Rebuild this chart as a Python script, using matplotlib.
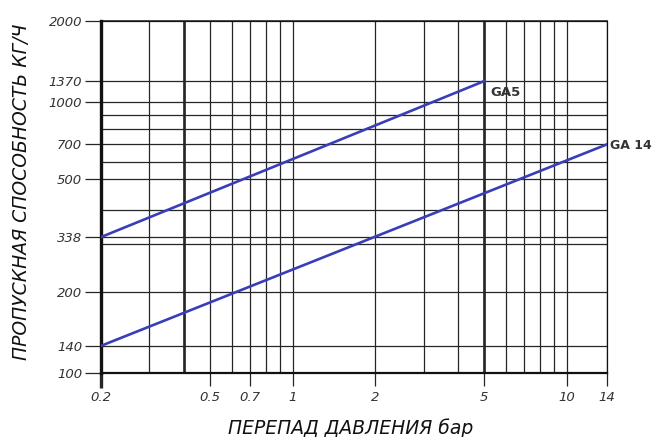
import numpy as np
import matplotlib
matplotlib.use('Agg')
import matplotlib.pyplot as plt
from matplotlib.ticker import FixedLocator, NullFormatter

plt.rcParams['font.family'] = ['DejaVu Sans']

# перепад давления, бар
ga5_dp = [0.2, 5]
ga5_flow = [338, 1370]
ga14_dp = [0.2, 14]
ga14_flow = [140, 700]

x_major = [0.2, 0.5, 0.7, 1, 2, 5, 10, 14]
x_labels = ['0.2', '0.5', '0.7', '1', '2', '5', '10', '14']
x_minor = [0.3, 0.4, 0.6, 0.8, 0.9, 3, 4, 6, 7, 8, 9]

y_major = [100, 140, 200, 338, 500, 700, 1000, 1370, 2000]
y_minor = [300, 400, 600, 800, 900]

# шкала расхода на бланке: где стоит каждая линия сетки по обычной логарифмической шкале
y_nodes = np.log10([100, 140, 200, 300, 338, 400, 500, 600, 700, 800, 900, 1000, 1370, 2000])
y_place = np.log10([100, 126, 200, 300, 318, 400, 520, 600, 700, 800, 900, 1000, 1200, 2000])


def fwd(v):
    v = np.clip(np.asarray(v, dtype=float), 1e-9, None)
    return np.interp(np.log10(v), y_nodes, y_place)


def inv(t):
    t = np.asarray(t, dtype=float)
    return 10 ** np.interp(t, y_place, y_nodes)


fig = plt.figure(figsize=(6.58, 4.37), dpi=100)
ax = fig.add_axes([101 / 658, 1 - 373 / 437, 506 / 658, 352 / 437])

ax.set_xscale('log')
ax.set_yscale('function', functions=(fwd, inv))
ax.set_xlim(0.2, 14)
ax.set_ylim(100, 2000)

grid_col = '#262626'
ax.xaxis.set_major_locator(FixedLocator(x_major))
ax.xaxis.set_minor_locator(FixedLocator(x_minor))
ax.set_xticklabels(x_labels)
ax.xaxis.set_minor_formatter(NullFormatter())
ax.yaxis.set_major_locator(FixedLocator(y_major))
ax.yaxis.set_minor_locator(FixedLocator(y_minor))
ax.set_yticklabels([str(v) for v in y_major])
ax.yaxis.set_minor_formatter(NullFormatter())

ax.grid(which='both', color=grid_col, linewidth=0.9)
ax.axvline(0.4, color='#111111', linewidth=1.8, zorder=1)
ax.axvline(5, color='#111111', linewidth=1.8, zorder=1)

ax.tick_params(axis='x', which='major', length=9, width=0.9, color=grid_col, pad=4,
               labelsize=9.5, labelcolor='#333333')
ax.tick_params(axis='y', which='major', length=11.5, width=0.9, color=grid_col, pad=2,
               labelsize=9.5, labelcolor='#333333')
ax.tick_params(which='minor', length=0)
for lab in ax.get_xticklabels() + ax.get_yticklabels():
    lab.set_fontstyle('italic')

# толстая ось у 0.2
t0 = ax.xaxis.get_major_ticks()[0]
t0.tick1line.set_markeredgewidth(2.4)
t0.tick1line.set_markersize(11)

ax.spines['left'].set_linewidth(2.4)
ax.spines['bottom'].set_linewidth(1.6)
ax.spines['top'].set_linewidth(1.1)
ax.spines['right'].set_linewidth(0.9)
for s in ax.spines.values():
    s.set_color('#111111')

blue = '#3a3db8'
ax.plot(ga5_dp, ga5_flow, color=blue, linewidth=1.9, zorder=3)
ax.plot(ga14_dp, ga14_flow, color=blue, linewidth=1.9, zorder=3)

ax.annotate('GA5', xy=(ga5_dp[-1], ga5_flow[-1]), xytext=(4, -8), textcoords='offset points',
            fontsize=9.5, fontweight='bold', color='#333333', va='center', ha='left',
            annotation_clip=False)
ax.annotate('GA 14', xy=(ga14_dp[-1], ga14_flow[-1]), xytext=(2, -1), textcoords='offset points',
            fontsize=9, fontweight='bold', color='#333333', va='center', ha='left',
            annotation_clip=False)

fig.text(22 / 658, 1 - 192 / 437, 'ПРОПУСКНАЯ СПОСОБНОСТЬ КГ/Ч', rotation=90,
         fontsize=13.5, fontstyle='italic', color='#111111', ha='center', va='center')
fig.text(351 / 658, 1 - 428 / 437, 'ПЕРЕПАД ДАВЛЕНИЯ бар',
         fontsize=13.5, fontstyle='italic', color='#111111', ha='center', va='center')

fig.savefig('out.png', dpi=100)
